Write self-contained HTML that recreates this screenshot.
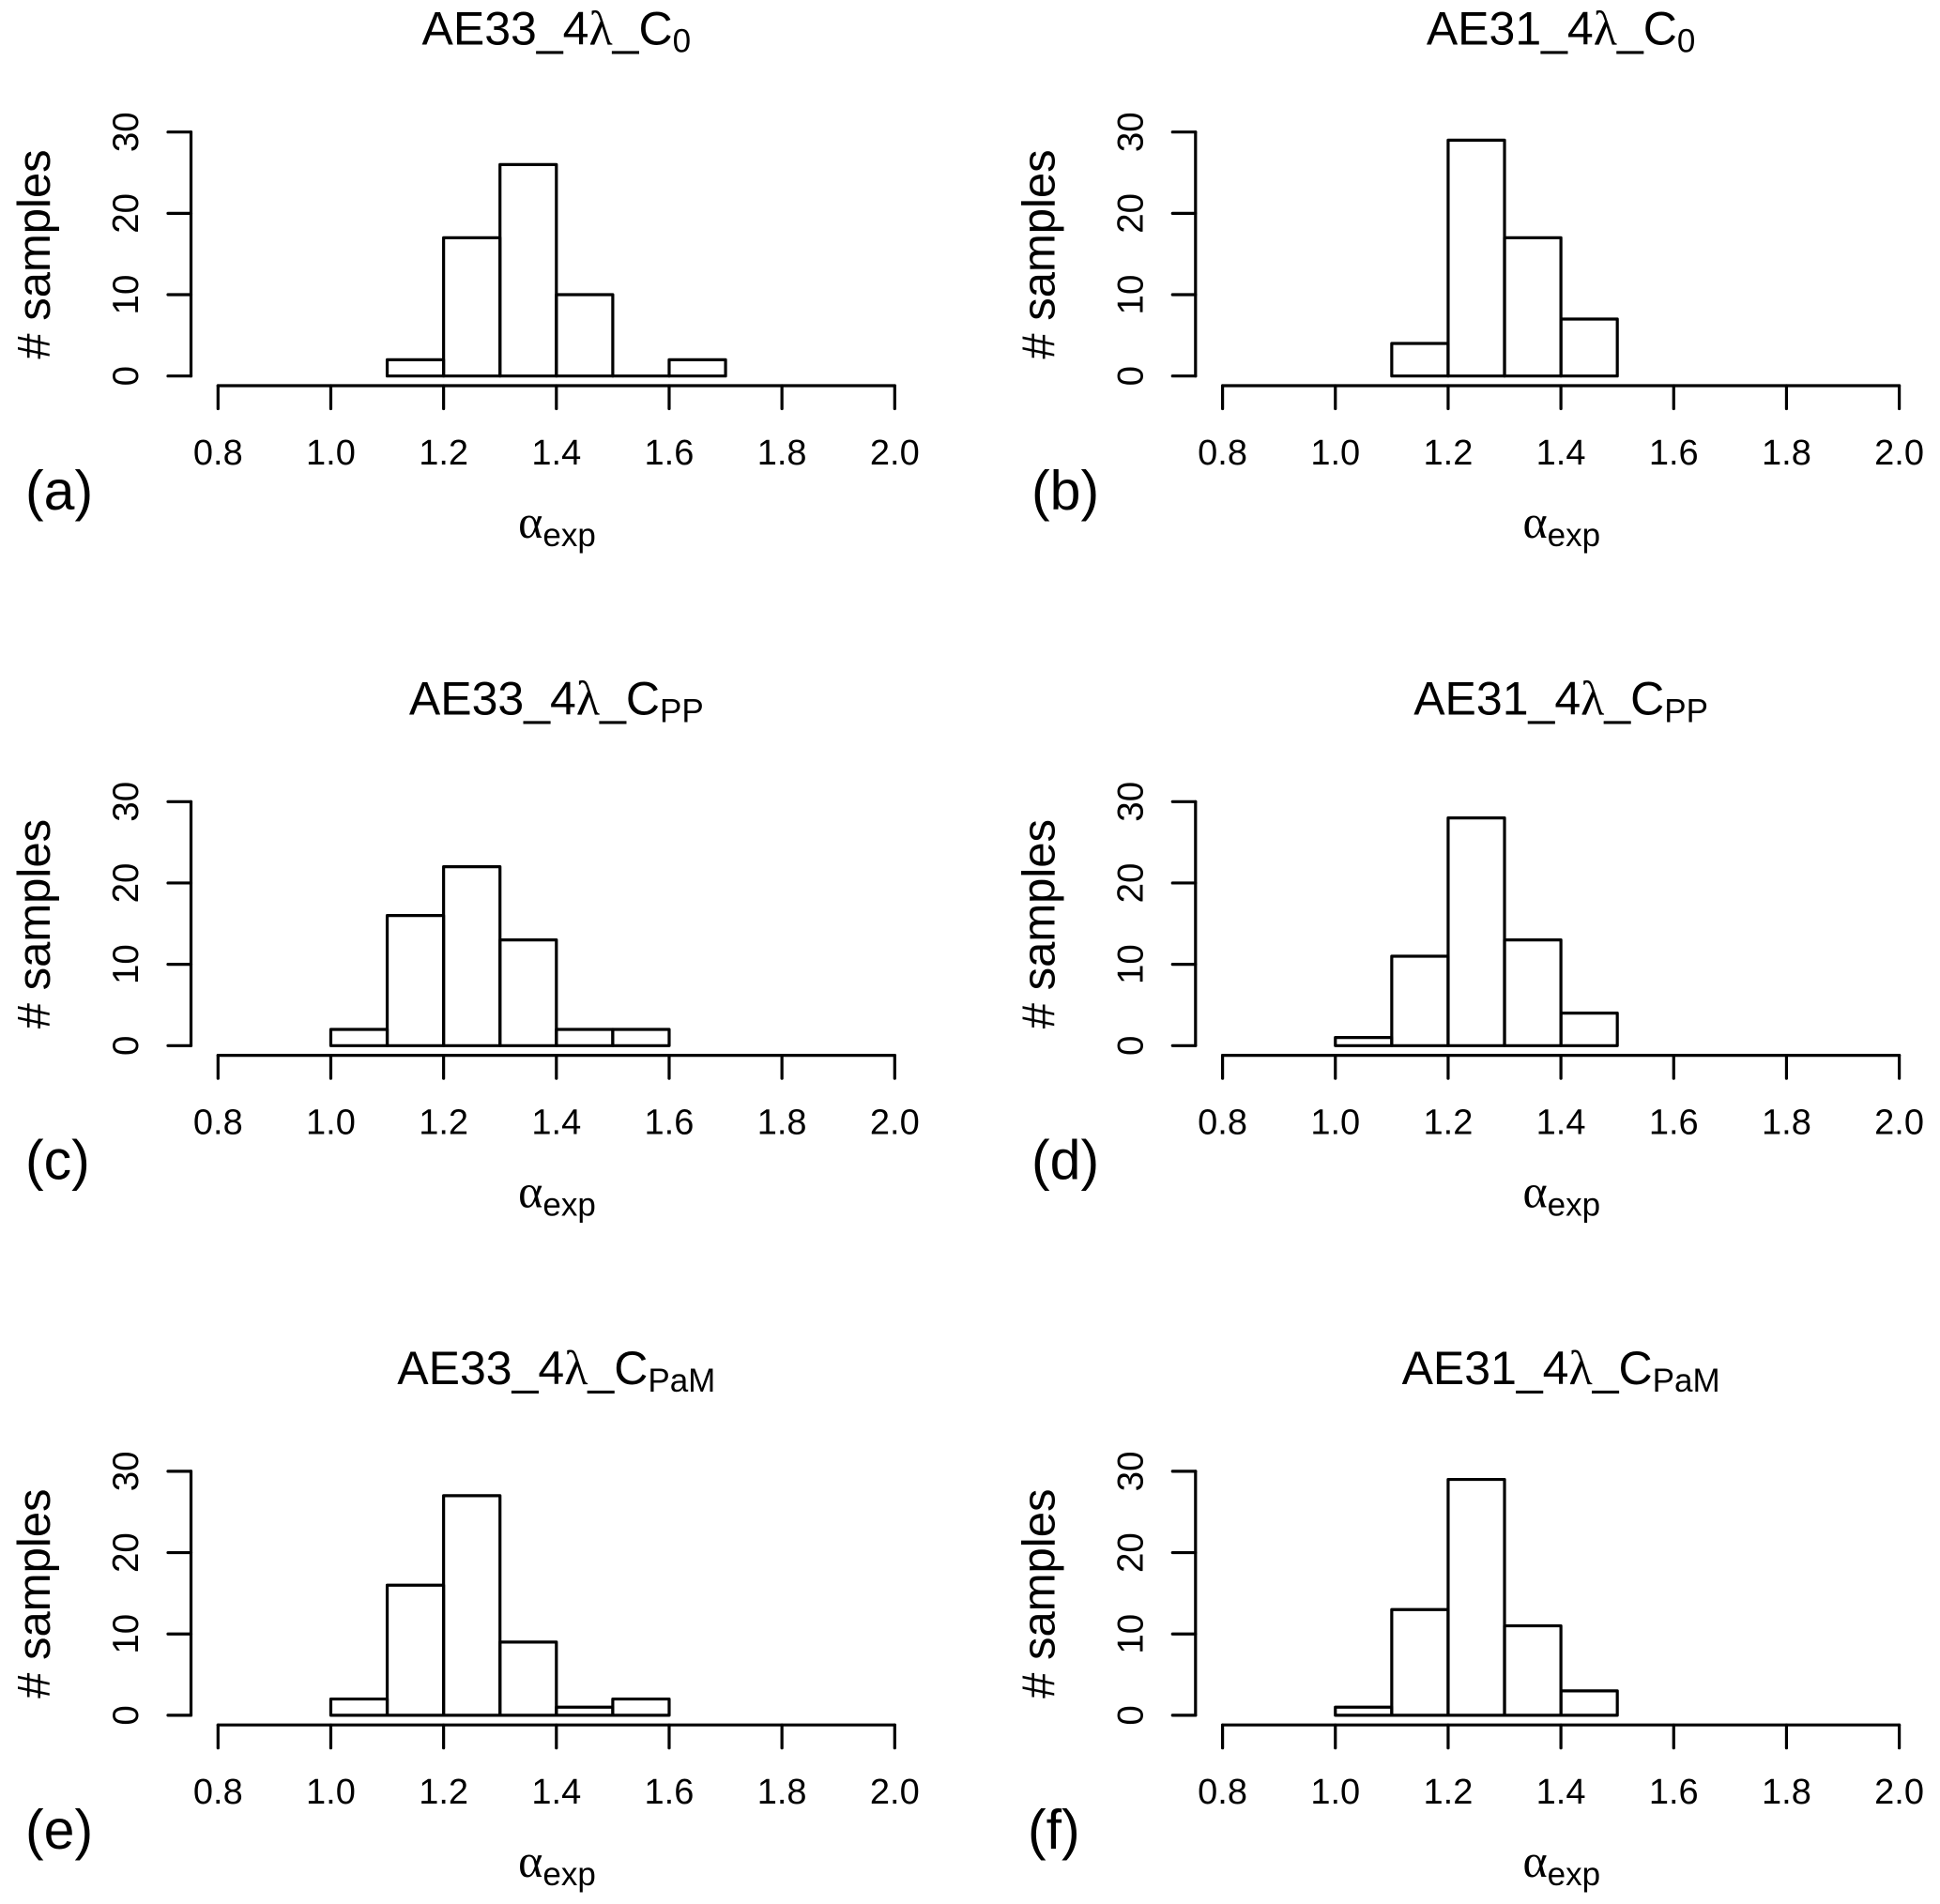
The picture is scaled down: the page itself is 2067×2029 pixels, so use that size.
<!DOCTYPE html>
<html lang="en">
<head>
<meta charset="utf-8">
<title>Histograms of alpha exp</title>
<style>
html,body{margin:0;padding:0;background:#fff;}
svg{display:block;}
text{font-family:"Liberation Sans",sans-serif;fill:#000;}
.greek{font-family:"Liberation Serif",serif;}
</style>
</head>
<body>
<svg id="chart" xmlns="http://www.w3.org/2000/svg" width="2067" height="2029" viewBox="0 0 2067 2029">
<rect width="2067" height="2029" fill="#fff"/>
</svg>
<script>
// Tick labels
const xTickValues = [0.8, 1.0, 1.2, 1.4, 1.6, 1.8, 2.0];
const xTickLabels = ["0.8", "1.0", "1.2", "1.4", "1.6", "1.8", "2.0"];
const yTickValues = [0, 10, 20, 30];
const yTickLabels = ["0", "10", "20", "30"];

// Panel names and text
const panelIds = ["a", "b", "c", "d", "e", "f"];
const panelInstruments = ["AE33_4", "AE31_4", "AE33_4", "AE31_4", "AE33_4", "AE31_4"];
const panelTitleSubs = ["0", "0", "PP", "PP", "PaM", "PaM"];

// Histogram bin starts (bin width 0.1) and counts
const binWidth = 0.1;
const binsA = [1.1, 1.2, 1.3, 1.4, 1.5, 1.6];
const countsA = [2, 17, 26, 10, 0, 2];
const binsB = [1.1, 1.2, 1.3, 1.4];
const countsB = [4, 29, 17, 7];
const binsC = [1.0, 1.1, 1.2, 1.3, 1.4, 1.5];
const countsC = [2, 16, 22, 13, 2, 2];
const binsD = [1.0, 1.1, 1.2, 1.3, 1.4];
const countsD = [1, 11, 28, 13, 4];
const binsE = [1.0, 1.1, 1.2, 1.3, 1.4, 1.5];
const countsE = [2, 16, 27, 9, 1, 2];
const binsF = [1.0, 1.1, 1.2, 1.3, 1.4];
const countsF = [1, 13, 29, 11, 3];
const panelBins = [binsA, binsB, binsC, binsD, binsE, binsF];
const panelCounts = [countsA, countsB, countsC, countsD, countsE, countsF];

const NS = "http://www.w3.org/2000/svg";
const root = document.getElementById("chart");
const COL_STEP = 1070.3;
const ROW_STEP = 713.6;
const LW = 3.2;

function make(parent, tag, props) {
  const el = document.createElementNS(NS, tag);
  for (const k in props) el.setAttribute(k, props[k]);
  parent.appendChild(el);
  return el;
}
function makeX(col) {
  return v => 232.3 + col * COL_STEP + (v - 0.8) * 600.83;
}
function makeY(row) {
  return c => 400.7 + row * ROW_STEP - c * 8.667;
}

panelIds.forEach((id, i) => {
  const col = i % 2;
  const row = Math.floor(i / 2);
  const x = makeX(col);
  const y = makeY(row);
  const dx = col * COL_STEP;
  const dy = row * ROW_STEP;

  const g = make(root, "g", {});
  
  

  // Title
  const title = make(g, "text", {x: 592.8 + dx, y: 47.7 + dy, "text-anchor": "middle", "font-size": 50});
  
  
  title.textContent = panelInstruments[i];
  const titleGreek = make(title, "tspan", {"class": "greek", "font-size": 52});
  titleGreek.textContent = "λ";
  const titleRest = make(title, "tspan", {});
  titleRest.textContent = "_C";
  const titleSub = make(title, "tspan", {"font-size": 35, dy: 8});
  titleSub.textContent = panelTitleSubs[i];

  // Bars
  panelBins[i].forEach((b, j) => {
    const c = panelCounts[i][j];
    const bar = make(g, "path", {
      d: "M" + x(b) + " " + y(0) + "V" + y(c) + "H" + x(b + binWidth) + "V" + y(0) + "Z",
      fill: "none", stroke: "#000", "stroke-width": LW, "stroke-linejoin": "round", "stroke-linecap": "round"
    });
    
    
  });

  // Y axis
  const yAxisX = 203.5 + dx;
  const yAxis = make(g, "line", {
    x1: yAxisX, x2: yAxisX, y1: y(yTickValues[0]), y2: y(yTickValues[yTickValues.length - 1]),
    stroke: "#000", "stroke-width": LW, "stroke-linecap": "round"
  });
  
  
  yTickValues.forEach((v, j) => {
    const tick = make(g, "line", {
      x1: yAxisX - 24.5, x2: yAxisX, y1: y(v), y2: y(v),
      stroke: "#000", "stroke-width": LW, "stroke-linecap": "round"
    });
    
    
    const px = 147 + dx;
    const lab = make(g, "text", {
      x: px, y: y(v), "text-anchor": "middle", "font-size": 38.5,
      transform: "rotate(-90 " + px + " " + y(v) + ")"
    });
    
    
    lab.textContent = yTickLabels[j];
  });

  // Y axis title
  const ytx = 53 + dx;
  const yty = 271 + dy;
  const yTitle = make(g, "text", {
    x: ytx, y: yty, "text-anchor": "middle", "font-size": 49,
    transform: "rotate(-90 " + ytx + " " + yty + ")"
  });
  
  
  yTitle.textContent = "# samples";

  // X axis
  const xAxisY = 411 + dy;
  const xAxis = make(g, "line", {
    x1: x(xTickValues[0]), x2: x(xTickValues[xTickValues.length - 1]), y1: xAxisY, y2: xAxisY,
    stroke: "#000", "stroke-width": LW, "stroke-linecap": "round"
  });
  
  
  xTickValues.forEach((v, j) => {
    const tick = make(g, "line", {
      x1: x(v), x2: x(v), y1: xAxisY, y2: xAxisY + 24.5,
      stroke: "#000", "stroke-width": LW, "stroke-linecap": "round"
    });
    
    
    const lab = make(g, "text", {x: x(v), y: 495 + dy, "text-anchor": "middle", "font-size": 38});
    
    
    lab.textContent = xTickLabels[j];
  });

  // X axis title
  const xTitle = make(g, "text", {x: 593.5 + dx, y: 573 + dy, "text-anchor": "middle", "font-size": 50});
  
  
  const xGreek = make(xTitle, "tspan", {"class": "greek"});
  xGreek.textContent = "α";
  const xSub = make(xTitle, "tspan", {"font-size": 35, dy: 9});
  xSub.textContent = "exp";

  // Panel letter
  const letterX = col === 0 ? 27 : (id === "f" ? 1095 : 1099);
  const letter = make(g, "text", {x: letterX, y: 543 + dy, "font-size": 59});
  
  
  letter.textContent = "(" + id + ")";
});
</script>
</body>
</html>
